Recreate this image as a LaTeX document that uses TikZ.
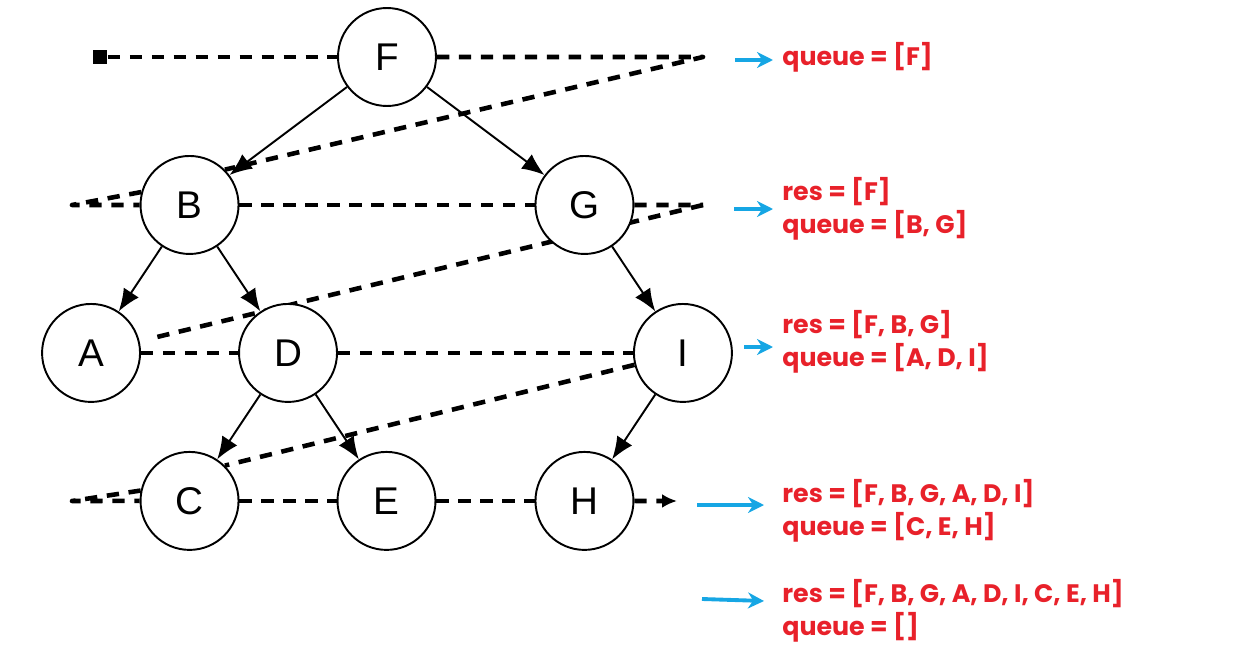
\documentclass[tikz,border=0pt]{standalone}
\usepackage{fontspec}
\setmainfont{Liberation Sans}
\newfontfamily\notefont{Poppins}
\usepackage{tikz}
\usetikzlibrary{arrows.meta,positioning,backgrounds}
\definecolor{notered}{RGB}{232,33,42}
\definecolor{pointerblue}{RGB}{22,166,228}

\begin{document}
\begin{tikzpicture}[
    x=0.02cm, y=0.02cm,
    node distance=2.96cm and 1.97cm,
    vertex/.style={circle, draw, line width=1.1pt, fill=white, minimum size=1.96cm, inner sep=0pt, on grid, font=\fontsize{22}{24}\selectfont},
    link/.style={-{Latex[length=0.45cm, width=0.36cm]}, line width=1.1pt},
    trail/.style={line width=2.6pt, line join=round, dash pattern=on 7pt off 5.5pt},
    startmark/.style={rectangle, fill=black, minimum size=0.3cm, inner sep=0pt},
    note/.style={anchor=west, align=left, inner sep=0pt, text=notered, font=\notefont\bfseries\fontsize{14.4}{18.8}\selectfont},
    pointer/.style={-{Stealth[length=0.32cm, width=0.32cm]}, line width=2.2pt, pointerblue}
]
\useasboundingbox (0,0) rectangle (1238,-659);

% Tree
\node[vertex] (f) at (387,-57) {F};
\node[vertex, below left=2.96cm and 3.95cm of f] (b) {B};
\node[vertex, below right=2.96cm and 3.95cm of f] (g) {G};
\node[vertex, below left=of b] (a) {A};
\node[vertex, below right=of b] (d) {D};
\node[vertex, below right=of g] (i) {I};
\node[vertex, below left=of d] (c) {C};
\node[vertex, below right=of d] (e) {E};
\node[vertex, below left=of i] (h) {H};

\draw[link] (f) -- (b);
\draw[link] (f) -- (g);
\draw[link] (b) -- (a);
\draw[link] (b) -- (d);
\draw[link] (g) -- (i);
\draw[link] (d) -- (c);
\draw[link] (d) -- (e);
\draw[link] (i) -- (h);

% Level order walk
\node[startmark] (start) at (100,-57) {};
\coordinate (turn0) at (703,-57);
\coordinate (turn1) at (703,-205);
\coordinate (back1) at (72,-205);
\coordinate (back3) at (72,-501);
\coordinate (stop) at (677,-501);

\begin{scope}[on background layer]
\draw[trail] (start) -- (f);
\draw[trail] (f) -- (turn0) -- (b.north east);
\draw[trail] (b.165) -- (back1) -- (b.west);
\draw[trail] (b) -- (g);
\draw[trail] (g) -- (turn1);
\draw[trail, shorten >=0.2cm] (turn1) -- (a);
\draw[trail] (a) -- (d);
\draw[trail] (d) -- (i);
\draw[trail] (i) -- (c.north east);
\draw[trail] (c.168) -- (back3) -- (c.west);
\draw[trail] (c) -- (e);
\draw[trail] (e) -- (h);
\draw[trail, -{Latex[length=0.3cm, width=0.28cm]}] (h) -- (stop);
\end{scope}

% Queue states
\node[note] (step0) at (782,-57) {queue = [F]};
\node[note] (step1) at (782,-209) {res = [F]\\queue = [B, G]};
\node[note] (step2) at (782,-342) {res = [F, B, G]\\queue = [A, D, I]};
\node[note] (step3) at (782,-511) {res = [F, B, G, A, D, I]\\queue = [C, E, H]};
\node[note] (step4) at (782,-611) {res = [F, B, G, A, D, I, C, E, H]\\queue = []};

\coordinate (ptr0_from) at (735,-60);
\coordinate (ptr0_to) at (773,-60);
\coordinate (ptr1_from) at (734,-209);
\coordinate (ptr1_to) at (773,-209);
\coordinate (ptr2_from) at (744,-347);
\coordinate (ptr2_to) at (773,-347);
\coordinate (ptr3_from) at (697,-505);
\coordinate (ptr3_to) at (764,-505);
\coordinate (ptr4_from) at (702,-599);
\coordinate (ptr4_to) at (764,-601);

\draw[pointer] (ptr0_from) -- (ptr0_to);
\draw[pointer] (ptr1_from) -- (ptr1_to);
\draw[pointer] (ptr2_from) -- (ptr2_to);
\draw[pointer] (ptr3_from) -- (ptr3_to);
\draw[pointer] (ptr4_from) -- (ptr4_to);

\end{tikzpicture}
\end{document}
